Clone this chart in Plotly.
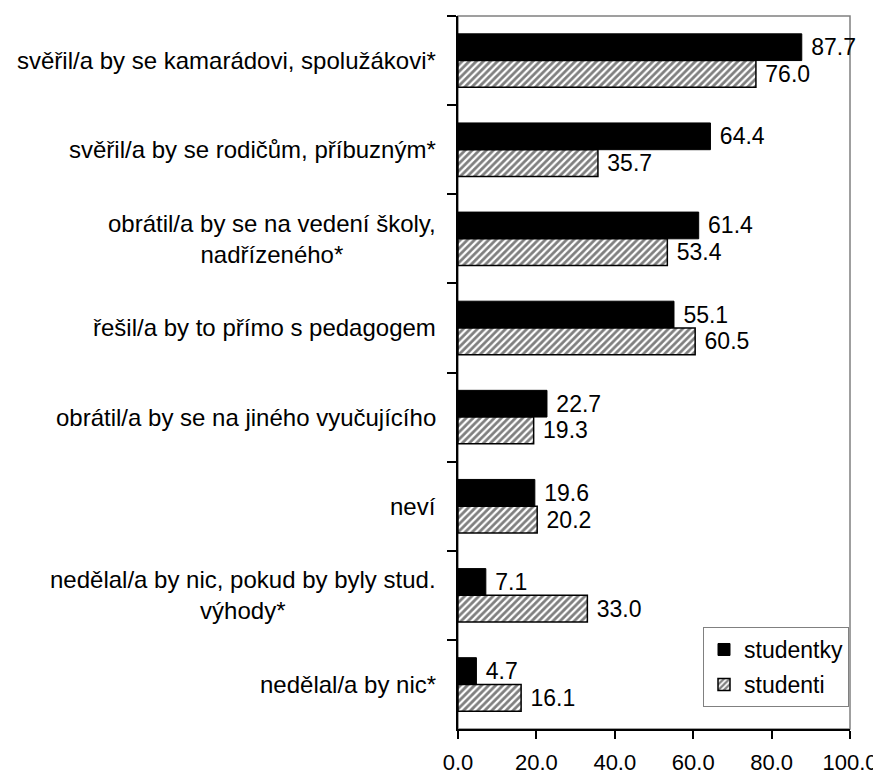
import plotly.graph_objects as go

categories = [
    "svěřil/a by se kamarádovi, spolužákovi*",
    "svěřil/a by se rodičům, příbuzným*",
    "obrátil/a by se na vedení školy,<br>nadřízeného*",
    "řešil/a by to přímo s pedagogem",
    "obrátil/a by se na jiného vyučujícího",
    "neví",
    "nedělal/a by nic, pokud by byly stud.<br>výhody*",
    "nedělal/a by nic*",
]
studentky = [87.7, 64.4, 61.4, 55.1, 22.7, 19.6, 7.1, 4.7]
studenti = [76.0, 35.7, 53.4, 60.5, 19.3, 20.2, 33.0, 16.1]
x_ticks = [0, 20, 40, 60, 80, 100]

FONT = "Liberation Sans, Arial, sans-serif"
FS = 23

fig = go.Figure()

fig.add_trace(go.Bar(
    y=categories, x=studentky, orientation="h", name="studentky",
    legendgroup="a",
    marker=dict(color="black", line=dict(color="black", width=1)),
    texttemplate="\u00a0%{x:.1f}", textposition="outside",
    textfont=dict(color="black", size=FS, family=FONT),
    cliponaxis=False,
))
fig.add_trace(go.Bar(
    y=categories, x=studenti, orientation="h", name="studenti",
    legendgroup="b",
    marker=dict(
        color="white",
        line=dict(color="black", width=1.5),
        pattern=dict(shape="/", fgcolor="black", bgcolor="white", size=5, solidity=0.55),
    ),
    texttemplate="\u00a0%{x:.1f}", textposition="outside",
    textfont=dict(color="black", size=FS, family=FONT),
    cliponaxis=False,
))

# category labels as annotations so that wrapped lines are centred
for c in categories:
    fig.add_annotation(
        x=0, xref="paper", y=c, yref="y", text=c, showarrow=False,
        xanchor="right", align="center", xshift=-20,
        font=dict(size=24, color="black", family=FONT),
    )

# grey plot-area frame (top and right sides)
fig.add_shape(type="rect", xref="paper", yref="paper", x0=0, x1=1, y0=0, y1=1,
              line=dict(color="#808080", width=1.5), layer="below")

# page body adds 8px offset, so the figure is sized to fit the 881x776 window
fig.update_layout(
    width=873, height=768,
    margin=dict(l=450, r=31, t=8, b=47),
    plot_bgcolor="white", paper_bgcolor="white",
    barmode="group", bargap=0.4, bargroupgap=0,
    font=dict(family=FONT, size=FS, color="black"),
    showlegend=True,
    legend=dict(
        x=0.625, y=0.143, xanchor="left", yanchor="top",
        bgcolor="white", bordercolor="#808080", borderwidth=1,
        font=dict(size=FS, family=FONT, color="black"),
        traceorder="grouped", itemwidth=30, tracegroupgap=2,
    ),
)

fig.update_xaxes(
    range=[0, 100], tickvals=x_ticks, tickformat=".1f",
    tickfont=dict(size=22),
    showgrid=False, zeroline=False, automargin=False,
    showline=True, linecolor="black", linewidth=1.5,
    ticks="outside", ticklen=8, tickcolor="black", tickwidth=1.5,
    ticklabelstandoff=5,
)
fig.update_yaxes(
    type="category", autorange="reversed", showticklabels=False,
    showgrid=False, zeroline=False, automargin=False,
    showline=True, linecolor="black", linewidth=1.5,
    ticks="outside", ticklen=9, tickcolor="black", tickwidth=1.5,
    tickson="boundaries",
)

fig.write_html("out.html")
